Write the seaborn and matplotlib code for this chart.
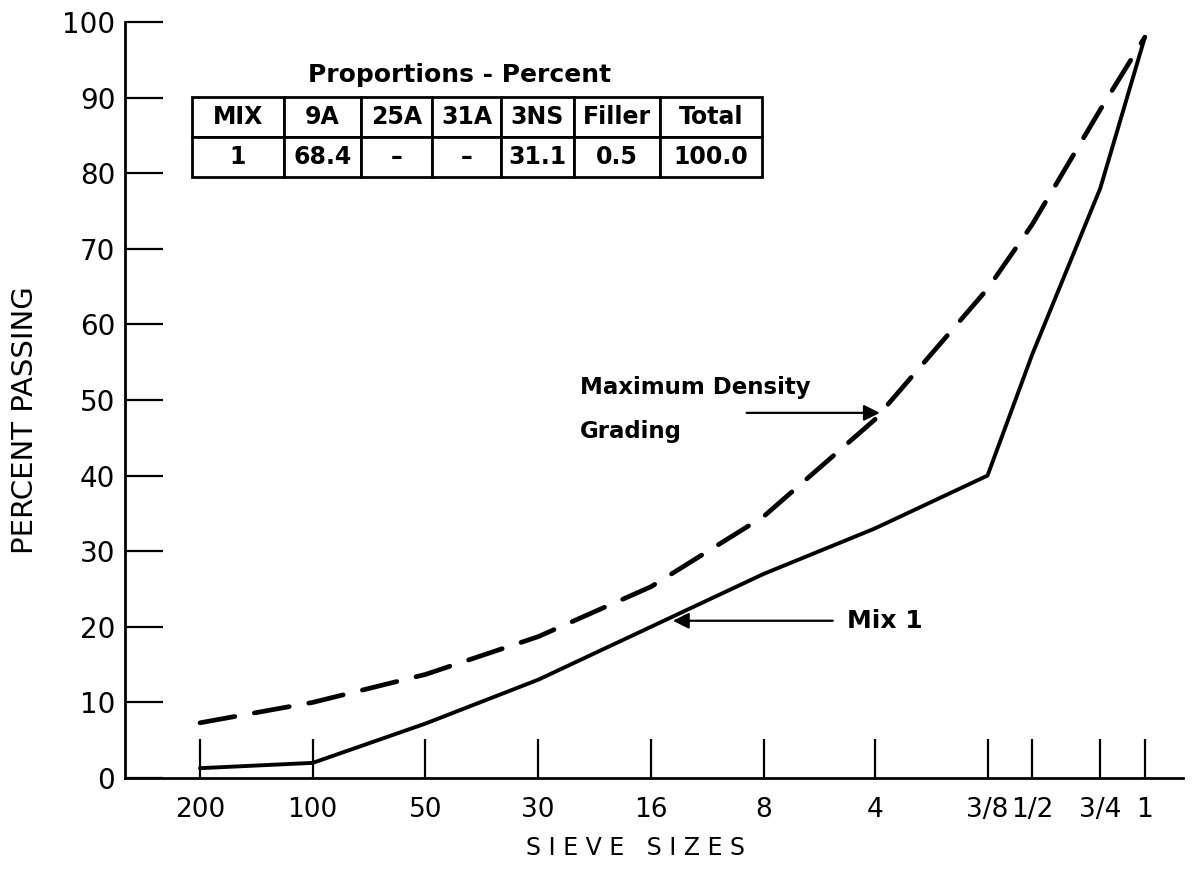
import matplotlib
matplotlib.use("Agg")
import matplotlib.pyplot as plt
import seaborn as sns
from matplotlib.ticker import NullLocator

# ---------------- data ----------------
sieve_labels = ["200", "100", "50", "30", "16", "8", "4", "3/8", "1/2", "3/4", "1"]
sieve_mm = [0.075, 0.15, 0.3, 0.6, 1.2, 2.4, 4.75, 9.5, 12.5, 19.0, 25.0]
mix1_passing = [1.3, 2.0, 7.2, 13.0, 20.0, 27.0, 33.0, 40.0, 56.0, 78.0, 98.0]
max_density_passing = [7.3, 10.0, 13.7, 18.7, 25.3, 34.6, 47.4, 64.7, 73.2, 88.4, 98.0]
y_ticks = [0, 10, 20, 30, 40, 50, 60, 70, 80, 90, 100]

table_title = "Proportions - Percent"
table_headers = ["MIX", "9A", "25A", "31A", "3NS", "Filler", "Total"]
table_row = ["1", "68.4", "–", "–", "31.1", "0.5", "100.0"]
table_col_widths = [92, 77, 71, 69, 73, 86, 102]

# ---------------- style ----------------
sns.set_style("white")
plt.rcParams["font.family"] = ["DejaVu Sans"]
plt.rcParams["axes.edgecolor"] = "black"
plt.rcParams["text.color"] = "black"

fig = plt.figure(figsize=(11.93, 8.69), dpi=100)
ax = fig.add_axes([125 / 1193, (869 - 778) / 869, (1183 - 125) / 1193, (778 - 22) / 869])

sns.lineplot(x=sieve_mm, y=max_density_passing, ax=ax, color="black", lw=3.4, sort=False)
ax.lines[-1].set_dashes([7.5, 4.2])
ax.lines[-1].set_dash_capstyle("round")
sns.lineplot(x=sieve_mm, y=mix1_passing, ax=ax, color="black", lw=2.8, sort=False)

ax.set_xscale("log")
ax.set_xlim(0.0473, 31.6)
ax.set_ylim(0, 100)
ax.set_xticks(sieve_mm)
ax.set_xticklabels(sieve_labels)
ax.xaxis.set_minor_locator(NullLocator())
ax.set_yticks(y_ticks)
ax.set_yticklabels([str(v) for v in y_ticks])

for s in ["top", "right"]:
    ax.spines[s].set_visible(False)
for s in ["left", "bottom"]:
    ax.spines[s].set_linewidth(2.0)
    ax.spines[s].set_color("black")

ax.tick_params(axis="x", direction="in", length=28, width=1.6, pad=14,
               labelsize=19, colors="black", bottom=True)
ax.tick_params(axis="y", direction="in", length=27, width=1.6, pad=7,
               labelsize=20, colors="black", left=True)
ax.set_xlabel("")
ax.set_ylabel("")
ax.grid(False)

# axis titles
fig.text(25 / 1193, 1 - 420 / 869, "PERCENT PASSING", rotation=90,
         ha="center", va="center", fontsize=21, color="black")
fig.text(635 / 1193, 1 - 848 / 869, "S I E V E   S I Z E S",
         ha="center", va="center", fontsize=17, color="black")

# annotations
arrow_kw = dict(arrowstyle="-|>", lw=1.6, color="black", mutation_scale=24,
                shrinkA=0, shrinkB=0)
ax.annotate("", xy=(4.9, 48.3), xytext=(2.16, 48.3), arrowprops=arrow_kw)
ax.text(0.776, 51.7, "Maximum Density", ha="left", va="center",
        fontsize=16.5, fontweight="bold", color="black")
ax.text(0.776, 45.8, "Grading", ha="left", va="center",
        fontsize=16.5, fontweight="bold", color="black")
ax.annotate("", xy=(1.373, 20.8), xytext=(3.67, 20.8), arrowprops=arrow_kw)
ax.text(4.0, 20.8, "Mix 1", ha="left", va="center", fontsize=18,
        fontweight="bold", color="black")

# proportions table
ax.text(0.316, 0.93, table_title, transform=ax.transAxes, ha="center",
        va="center", fontsize=18, fontweight="bold", color="black")
tbl = ax.table(cellText=[table_row], colLabels=table_headers,
               colWidths=table_col_widths, cellLoc="center",
               bbox=[(192 - 125) / 1058, (778 - 177) / 756, 570 / 1058, 80 / 756])
tbl.auto_set_font_size(False)
for (r, c), cell in tbl.get_celld().items():
    cell.set_linewidth(2.0)
    cell.set_edgecolor("black")
    cell.set_facecolor("white")
    cell.get_text().set_fontsize(17)
    cell.get_text().set_fontweight("bold")
    cell.get_text().set_color("black")

fig.savefig("out.png", dpi=100, facecolor="white")
